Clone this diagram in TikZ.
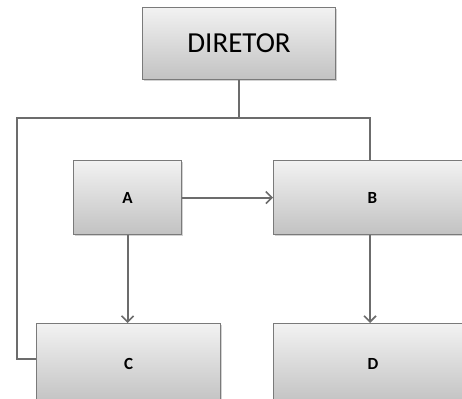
\documentclass[tikz,border=0pt]{standalone}
\usepackage{fontspec}
\setmainfont{Carlito}
\usetikzlibrary{arrows.meta,shadows}
\definecolor{boxborder}{HTML}{7A7A7A}
\definecolor{boxtop}{HTML}{F2F2F2}
\definecolor{boxbot}{HTML}{C2C2C2}
\definecolor{linecol}{HTML}{6C6C6C}
\begin{document}
\begin{tikzpicture}[x=1pt,y=-1pt,
  box/.style={draw=boxborder, line width=1.1pt, top color=boxtop, bottom color=boxbot,
    anchor=north west, inner sep=0pt, font=\fontsize{17}{20}\bfseries\selectfont,
    drop shadow={shadow xshift=1.5pt, shadow yshift=-1.5pt, fill=black!35, opacity=0.5}},
  conn/.style={draw=linecol, line width=2pt},
  arr/.style={conn, -{Straight Barb[length=6pt,width=12pt,line width=1.6pt]}}]
\clip (0,0) rectangle (462,398);
\fill[white] (0,0) rectangle (462,398);
\node[box, minimum width=193pt, minimum height=72pt, font=\fontsize{29}{34}\selectfont] (dir) at (142,7) {DIRETOR};
\node[box, minimum width=108pt, minimum height=74pt] (A) at (73,160) {A};
\node[box, minimum width=200pt, minimum height=74pt, text width=194pt, align=left] (B) at (273,160) {\hspace*{91pt}B};
\node[box, minimum width=184pt, minimum height=80pt] (C) at (36,323) {C};
\node[box, minimum width=200pt, minimum height=80pt, text width=194pt, align=left] (D) at (273,323) {\hspace*{91pt}D};
\coordinate (lt) at (17,118);
\coordinate (rt) at (370,118);
\draw[conn] (dir.south) -- (dir.south |- lt);
\draw[conn] ([yshift=5pt]C.west) -| (lt) -- (rt) -- (rt |- B.north);
\draw[arr] (A.east) -- (B.west);
\draw[arr] (A.south) -- (A.south |- C.north);
\draw[arr] (rt |- B.south) -- (rt |- D.north);
\end{tikzpicture}
\end{document}
